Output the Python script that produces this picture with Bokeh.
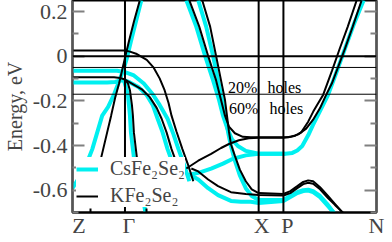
from bokeh.plotting import figure
from bokeh.models import Span, Label, Legend, LegendItem, FixedTicker, LinearAxis, Range1d
from bokeh.embed import file_html
from bokeh.resources import INLINE

# k-path positions (arbitrary path units)
sym_k = [0.0, 0.53, 1.88, 2.13, 3.07]
x_label_pos = [0.065, 0.57, 1.91, 2.17, 3.07]
x_tick_labels = ["Z", "\u0393", "X", "P", "N"]
x_minor = [0.18, 0.75]
y_major = [-0.6, -0.4, -0.2, 0.0, 0.2]
y_major_labels = ["-0.6", "-0.4", "-0.2", "0", "0.2"]
y_minor = [-0.7, -0.5, -0.3, -0.1, 0.1]
hole_levels = [-0.05, -0.17]

# ---- KFe2Se2 bands (black) ----
kb1_k = [0, 0.53, 0.58, 0.65, 0.75, 0.82, 0.88, 0.93, 0.97, 1.00, 1.05, 1.11, 1.17, 1.22]
kb1_e = [0.026, 0.026, 0.021, 0.010, -0.016, -0.051, -0.099, -0.152, -0.209, -0.266, -0.337, -0.416, -0.490, -0.560]
kb2_k = [0, 0.42, 0.48, 0.53, 0.60, 0.70, 0.78, 0.85, 0.90, 0.95, 1.00, 1.06, 1.11]
kb2_e = [-0.094, -0.094, -0.097, -0.104, -0.122, -0.148, -0.183, -0.231, -0.280, -0.341, -0.416, -0.490, -0.560]
ks_k = [0.68, 0.62, 0.57, 0.53, 0.50, 0.47, 0.43, 0.39, 0.35, 0.31, 0.27, 0.23]
ks_e = [0.251, 0.155, 0.067, -0.007, -0.065, -0.122, -0.187, -0.266, -0.341, -0.416, -0.490, -0.569]
kr_k = [0.53, 0.56, 0.58, 0.60, 0.61, 0.62, 0.64, 0.66]
kr_e = [-0.104, -0.122, -0.152, -0.218, -0.266, -0.341, -0.416, -0.490]
ka_k = [1.18, 1.28, 1.37, 1.45, 1.50, 1.54, 1.58, 1.64, 1.72, 1.80, 1.88, 2.18, 2.25, 2.31, 2.38, 2.43, 2.47, 2.53, 2.62, 2.70, 2.78, 2.87]
ka_e = [0.251, 0.133, 0.001, -0.108, -0.196, -0.266, -0.315, -0.345, -0.361, -0.363, -0.363, -0.363, -0.356, -0.341, -0.293, -0.249, -0.218, -0.174, -0.065, 0.036, 0.133, 0.251]
kd_k = [1.15, 1.27, 1.40, 1.50, 1.58, 1.68, 1.78, 1.88, 2.13, 2.20, 2.28, 2.36, 2.43, 2.50, 2.56, 2.62, 2.68, 2.75, 2.83, 2.92]
kd_e = [-0.503, -0.468, -0.437, -0.411, -0.393, -0.376, -0.367, -0.365, -0.365, -0.361, -0.350, -0.324, -0.284, -0.232, -0.174, -0.121, -0.051, 0.032, 0.133, 0.251]
kbb_k = [1.31, 1.39, 1.45, 1.50, 1.54, 1.56, 1.58, 1.60, 1.64, 1.69, 1.75, 1.81, 1.88, 2.13, 2.20, 2.27, 2.33, 2.38, 2.43, 2.50, 2.58, 2.65, 2.72, 2.75]
kbb_e = [0.251, 0.133, 0.001, -0.108, -0.196, -0.266, -0.337, -0.394, -0.446, -0.508, -0.560, -0.596, -0.613, -0.617, -0.604, -0.582, -0.563, -0.556, -0.560, -0.587, -0.626, -0.661, -0.696, -0.709]
ke_k = [1.20, 1.27, 1.37, 1.47, 1.60, 1.75, 1.88, 2.13, 2.20, 2.27, 2.33, 2.38, 2.43, 2.50, 2.58, 2.65, 2.72, 2.75]
ke_e = [-0.503, -0.516, -0.552, -0.582, -0.609, -0.617, -0.622, -0.624, -0.613, -0.591, -0.573, -0.567, -0.571, -0.596, -0.635, -0.666, -0.696, -0.709]

# ---- CsFe2Se2 bands (cyan) ----
c1_k = [0, 0.45, 0.53, 0.62, 0.72, 0.81, 0.88, 0.96, 1.02, 1.07, 1.13, 1.18]
c1_e = [-0.065, -0.065, -0.071, -0.086, -0.122, -0.170, -0.218, -0.280, -0.350, -0.416, -0.490, -0.560]
c2_k = [0, 0.35, 0.43, 0.49, 0.53, 0.58, 0.67, 0.75, 0.81, 0.86, 0.91, 0.96, 1.02]
c2_e = [-0.117, -0.117, -0.115, -0.108, -0.108, -0.117, -0.139, -0.174, -0.218, -0.280, -0.341, -0.416, -0.490]
cs_k = [0.695, 0.64, 0.59, 0.55, 0.51, 0.47, 0.42, 0.36, 0.30, 0.25, 0.20, 0.15, 0.08, 0]
cs_e = [0.251, 0.155, 0.067, -0.007, -0.065, -0.113, -0.170, -0.227, -0.266, -0.341, -0.416, -0.473, -0.534, -0.591]
cr_k = [0.52, 0.54, 0.56, 0.57, 0.58, 0.59, 0.61, 0.63, 0.67, 0.72, 0.74]
cr_e = [-0.108, -0.139, -0.174, -0.218, -0.266, -0.341, -0.416, -0.490, -0.569, -0.657, -0.709]
ca_k = [1.15, 1.25, 1.34, 1.42, 1.48, 1.52, 1.56, 1.61, 1.67, 1.75, 1.88, 2.15, 2.22, 2.27, 2.32, 2.38, 2.43, 2.48, 2.58, 2.66, 2.75, 2.84, 2.94]
ca_e = [0.251, 0.133, 0.001, -0.108, -0.196, -0.266, -0.319, -0.372, -0.402, -0.424, -0.437, -0.437, -0.433, -0.422, -0.402, -0.354, -0.306, -0.262, -0.174, -0.078, 0.032, 0.142, 0.251]
cb_k = [1.27, 1.35, 1.42, 1.47, 1.51, 1.54, 1.57, 1.60, 1.64, 1.69, 1.75, 1.81, 1.88, 2.13, 2.20, 2.27, 2.33, 2.38, 2.43, 2.50, 2.57, 2.63, 2.66]
cb_e = [0.251, 0.133, 0.001, -0.108, -0.196, -0.266, -0.337, -0.402, -0.468, -0.534, -0.591, -0.626, -0.644, -0.644, -0.626, -0.609, -0.600, -0.598, -0.604, -0.626, -0.661, -0.696, -0.714]
cd_k = [1.15, 1.28, 1.40, 1.52, 1.62, 1.75, 1.88, 2.15]
cd_e = [-0.534, -0.521, -0.503, -0.481, -0.459, -0.444, -0.437, -0.437]
ce_k = [1.20, 1.27, 1.37, 1.47, 1.60, 1.70, 1.80, 1.88, 2.13, 2.20, 2.27, 2.33, 2.38, 2.43, 2.50, 2.57, 2.63, 2.66]
ce_e = [-0.534, -0.552, -0.591, -0.622, -0.648, -0.652, -0.652, -0.657, -0.648, -0.631, -0.613, -0.604, -0.602, -0.609, -0.631, -0.666, -0.696, -0.714]

cyan_bands = [(c1_k, c1_e), (c2_k, c2_e), (cs_k, cs_e), (cr_k, cr_e), (ca_k, ca_e),
              (cb_k, cb_e), (cd_k, cd_e), (ce_k, ce_e)]
black_bands = [(kb1_k, kb1_e), (kb2_k, kb2_e), (ks_k, ks_e), (kr_k, kr_e), (ka_k, ka_e),
               (kd_k, kd_e), (kbb_k, kbb_e), (ke_k, ke_e)]

FONT = "Liberation Serif"
CYAN = "#00f0f0"

p = figure(width=390, height=240, x_range=Range1d(0, 3.07), y_range=Range1d(-0.7, 0.25),
           output_backend="svg", toolbar_location=None,
           min_border_left=66, min_border_right=14, min_border_top=0, min_border_bottom=22)
p.grid.visible = False
p.outline_line_color = "black"
p.outline_line_width = 2
p.background_fill_color = "white"

cyan_r = []
for k, e in cyan_bands:
    cyan_r.append(p.line(k, e, line_color=CYAN, line_width=4))
black_r = []
for k, e in black_bands:
    black_r.append(p.line(k, e, line_color="black", line_width=2))

for xk in sym_k[1:4]:
    p.add_layout(Span(location=xk, dimension="height", line_color="black", line_width=2))
p.add_layout(Span(location=0.0, dimension="width", line_color="black", line_width=2))
for lv in hole_levels:
    p.add_layout(Span(location=lv, dimension="width", line_color="black", line_width=1))

# hole-level texts
for lab, kx, ey in [("20%", 1.57, -0.138), ("holes", 1.97, -0.138),
                    ("60%", 1.58, -0.232), ("holes", 1.99, -0.232)]:
    p.add_layout(Label(x=kx, y=ey, text=lab, text_font=FONT, text_font_size="16px",
                       text_baseline="alphabetic", text_color="black"))

# y axis
yl = p.yaxis[0]
yl.ticker = FixedTicker(ticks=y_major, minor_ticks=y_minor)
yl.major_label_overrides = {v: s for v, s in zip(y_major, y_major_labels)}
yl.axis_label = "Energy, eV"
yl.axis_label_text_font = FONT
yl.axis_label_text_font_size = "20px"
yl.axis_label_text_font_style = "normal"
yl.axis_label_standoff = 4
yl.major_label_text_font = FONT
yl.major_label_text_font_size = "22px"
yl.major_tick_in = 12
yl.major_tick_out = 0
yl.minor_tick_in = 6
yl.minor_tick_out = 0
yl.major_tick_line_color = "#808080"
yl.minor_tick_line_color = "#808080"
yl.major_tick_line_width = 2
yl.minor_tick_line_width = 2
yl.axis_line_color = "#555555"
yl.axis_line_width = 2
yl.major_label_standoff = 5

yr = LinearAxis(ticker=FixedTicker(ticks=y_major, minor_ticks=y_minor),
                major_label_text_color=None, major_label_text_font_size="1px",
                major_tick_in=12, major_tick_out=0,
                minor_tick_in=6, minor_tick_out=0, major_tick_line_color="#808080",
                minor_tick_line_color="#808080", major_tick_line_width=2,
                minor_tick_line_width=2, axis_line_color="#555555", axis_line_width=2,
                major_label_standoff=0)
p.add_layout(yr, "right")

# x axis: k-point labels
xa = p.xaxis[0]
xa.ticker = FixedTicker(ticks=x_label_pos, minor_ticks=x_minor)
xa.major_label_overrides = {v: s for v, s in zip(x_label_pos, x_tick_labels)}
xa.major_label_text_font = FONT
xa.major_label_text_font_size = "22px"
xa.major_tick_in = 0
xa.major_tick_out = 0
xa.minor_tick_in = 4
xa.minor_tick_out = 0
xa.minor_tick_line_color = "black"
xa.minor_tick_line_width = 2
xa.axis_line_color = "black"
xa.axis_line_width = 2
xa.major_label_standoff = 0

legend = Legend(items=[LegendItem(label="CsFe\u2082Se\u2082", renderers=[cyan_r[0]]),
                       LegendItem(label="KFe\u2082Se\u2082", renderers=[black_r[0]])],
                location=(4, 5), glyph_width=22, glyph_height=20, label_standoff=12,
                spacing=4, padding=6, margin=0, border_line_color=None,
                background_fill_color="white", background_fill_alpha=1.0,
                label_text_font=FONT, label_text_font_size="20px")
p.add_layout(legend)

open("out.html", "w").write(file_html(p, INLINE))
